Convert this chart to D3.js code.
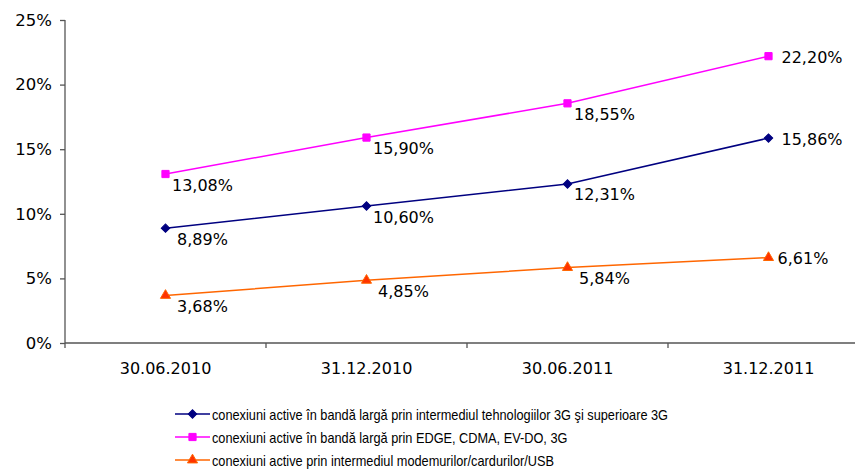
<!DOCTYPE html>
<html>
<head>
<meta charset="utf-8">
<script src="https://cdn.jsdelivr.net/npm/d3@7/dist/d3.min.js"></script>
<style>
  html, body { margin: 0; padding: 0; background: #fff; }
  svg { display: block; }
</style>
</head>
<body>
<svg id="chart" width="855" height="469"></svg>
<script>
const categories = ["30.06.2010", "31.12.2010", "30.06.2011", "31.12.2011"];
const seriesNames = [
  "conexiuni active în bandă largă prin intermediul tehnologiilor 3G şi superioare 3G",
  "conexiuni active în bandă largă prin EDGE, CDMA, EV-DO, 3G",
  "conexiuni active prin intermediul modemurilor/cardurilor/USB"
];
const values3G = [8.89, 10.60, 12.31, 15.86];
const valuesEdge = [13.08, 15.90, 18.55, 22.20];
const valuesUsb = [3.68, 4.85, 5.84, 6.61];
const yTicks = [0, 5, 10, 15, 20, 25];

const styles = [
  { line: "#000080", fill: "#000080", stroke: "#000080", sym: d3.symbolSquare, size: 36, rot: 45 },
  { line: "#FF00FF", fill: "#FF00FF", stroke: "#FF00FF", sym: d3.symbolSquare, size: 52, rot: 0 },
  { line: "#FF6600", fill: "#FF3300", stroke: "#FF6600", sym: d3.symbolTriangle, size: 44, rot: 0 }
];
const series = [values3G, valuesEdge, valuesUsb];

const svg = d3.select("#chart");
const fontMain = "'DejaVu Sans', Verdana, sans-serif";

const x = d3.scaleBand().domain(categories).range([65, 869]);
const y = d3.scaleLinear().domain([0, 25]).range([343, 20]);

// Y axis
const yAxis = svg.append("g").attr("transform", "translate(65,0)")
  .call(d3.axisLeft(y).tickValues(yTicks).tickSize(5).tickPadding(8).tickFormat(d => d + "%"));
yAxis.selectAll("path").attr("stroke", "#555").attr("stroke-width", 1.3).attr("d", "M0,20V343");
yAxis.selectAll("line").attr("stroke", "#555").attr("stroke-width", 1.3);
yAxis.selectAll("text").attr("font-family", fontMain).attr("font-size", 16.5).attr("fill", "#000");

// X axis
const xAxis = svg.append("g").attr("transform", "translate(0,343)")
  .call(d3.axisBottom(x).tickSize(0).tickPadding(20));
xAxis.select("path").attr("stroke", "#555").attr("stroke-width", 1.3).attr("d", "M65,0H869");
xAxis.selectAll("text").attr("font-family", fontMain).attr("font-size", 16).attr("fill", "#000");
xAxis.selectAll("line.bnd").data(categories).enter().append("line")
  .attr("class", "bnd")
  .attr("x1", d => x(d)).attr("x2", d => x(d))
  .attr("y1", 0).attr("y2", 5)
  .attr("stroke", "#555").attr("stroke-width", 1.3);

const cx = d => x(d) + x.bandwidth() / 2;

// Lines and markers
series.forEach((vals, si) => {
  const st = styles[si];
  const line = d3.line().x((d, i) => cx(categories[i])).y(d => y(d));
  svg.append("path").datum(vals)
    .attr("d", line).attr("fill", "none")
    .attr("stroke", st.line).attr("stroke-width", 1.5);
  svg.append("g").selectAll("path").data(vals).enter().append("path")
    .attr("d", d3.symbol().type(st.sym).size(st.size))
    .attr("transform", (d, i) => `translate(${cx(categories[i])},${y(d)}) rotate(${st.rot})`)
    .attr("fill", st.fill).attr("stroke", st.stroke).attr("stroke-width", 1);
});

// Data labels
const fmt = v => v.toFixed(2).replace(".", ",") + "%";
series.forEach((vals, si) => {
  svg.append("g").selectAll("text").data(vals).enter().append("text")
    .attr("x", (d, i) => i < 3 ? cx(categories[i]) + 37 : cx(categories[i]) + (si === 2 ? 9 : 13))
    .attr("y", (d, i) => i < 3 ? y(d) + 11 : y(d) + 1)
    .attr("text-anchor", (d, i) => i < 3 ? "middle" : "start")
    .attr("dominant-baseline", "central")
    .attr("font-family", fontMain).attr("font-size", 16).attr("fill", "#000")
    .text(d => fmt(d));
});

// Legend
const legend = svg.append("g");
const legendTexts = [];
seriesNames.forEach((name, si) => {
  const st = styles[si];
  const ly = 414 + si * 23;
  legend.append("line").attr("x1", 175).attr("x2", 210).attr("y1", ly).attr("y2", ly)
    .attr("stroke", st.line).attr("stroke-width", 1.5);
  legend.append("path").attr("d", d3.symbol().type(st.sym).size(st.size))
    .attr("transform", `translate(192.5,${ly}) rotate(${st.rot})`)
    .attr("fill", st.fill).attr("stroke", st.stroke).attr("stroke-width", 1);
  legendTexts.push(legend.append("text").attr("x", 212).attr("y", ly).attr("dominant-baseline", "central")
    .attr("font-family", "'Liberation Sans', Arial, sans-serif").attr("font-size", 15)
    .attr("fill", "#000").text(name));
});
// condense legend glyphs so the first entry spans the same width as the reference (narrow face)
const w0 = legendTexts[0].node().getComputedTextLength();
const k = Math.min(1, 456 / w0);
legendTexts.forEach(t => {
  const w = t.node().getComputedTextLength();
  t.attr("textLength", w * k).attr("lengthAdjust", "spacingAndGlyphs");
});
</script>
</body>
</html>
